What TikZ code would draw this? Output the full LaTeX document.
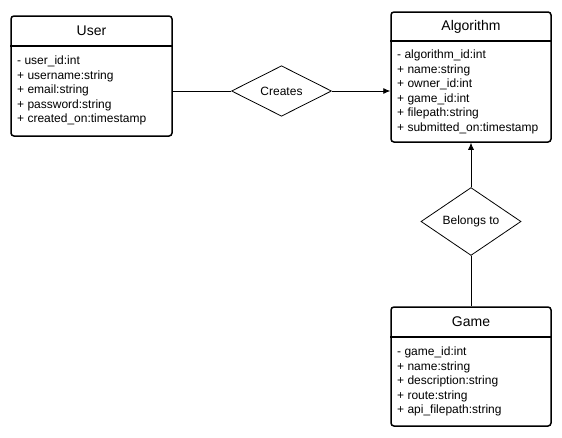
\documentclass[tikz,border=0pt]{standalone}
\usepackage{fontspec}
\setmainfont{Liberation Sans}
\usetikzlibrary{shapes.geometric, arrows.meta, positioning}

\tikzset{
  classbox/.style={draw, line width=1.5pt, rounded corners=3pt, inner sep=0pt},
  classname/.style={font=\fontsize{14}{16}\selectfont, inner sep=0pt},
  attrs/.style={font=\fontsize{12}{14.5}\selectfont, align=left, anchor=north west, inner sep=0pt},
  relation/.style={draw, diamond, inner sep=0pt, minimum width=100pt, minimum height=50pt, line width=0.8pt, font=\fontsize{12}{14}\selectfont},
  link/.style={line width=0.8pt},
  headline/.style={line width=1.5pt},
}

\begin{document}
\begin{tikzpicture}[x=1pt, y=-1pt]
\useasboundingbox (0,0) rectangle (562,437);

% User
\node[classbox, minimum width=161pt, minimum height=120pt] (user) at (91.5,76) {};
\draw[headline] (user.west |- 0,46) -- (user.east |- 0,46);
\node[classname] (user name) at (91.5,31) {User};
\node[attrs] (user attrs) at (17,56) {- user\_id:int\\+ username:string\\+ email:string\\+ password:string\\+ created\_on:timestamp};

% Algorithm
\node[classbox, minimum width=160pt, minimum height=130pt] (algorithm) at (471,77) {};
\draw[headline] (algorithm.west |- 0,41) -- (algorithm.east |- 0,41);
\node[classname] (algorithm name) at (471,26.5) {Algorithm};
\node[attrs] (algorithm attrs) at (397,50) {- algorithm\_id:int\\+ name:string\\+ owner\_id:int\\+ game\_id:int\\+ filepath:string\\+ submitted\_on:timestamp};

% Game
\node[classbox, minimum width=160pt, minimum height=119pt] (game) at (471,366.5) {};
\draw[headline] (game.west |- 0,337) -- (game.east |- 0,337);
\node[classname] (game name) at (471,322) {Game};
\node[attrs] (game attrs) at (397,347) {- game\_id:int\\+ name:string\\+ description:string\\+ route:string\\+ api\_filepath:string};

% relations
\node[relation] (creates) at (281.5,91) {Creates};
\node[relation] (belongs) at (471,221.5) {Belongs to};

\draw[link] (creates.west) -- (creates.west -| user.east);
\draw[link, -{Latex[length=7pt, width=6pt]}] (creates.east) -- (creates.east -| algorithm.west);
\draw[link, -{Latex[length=7pt, width=6pt]}] (belongs.north) -- (algorithm.south);
\draw[link] (belongs.south) -- (game.north);
\end{tikzpicture}
\end{document}
